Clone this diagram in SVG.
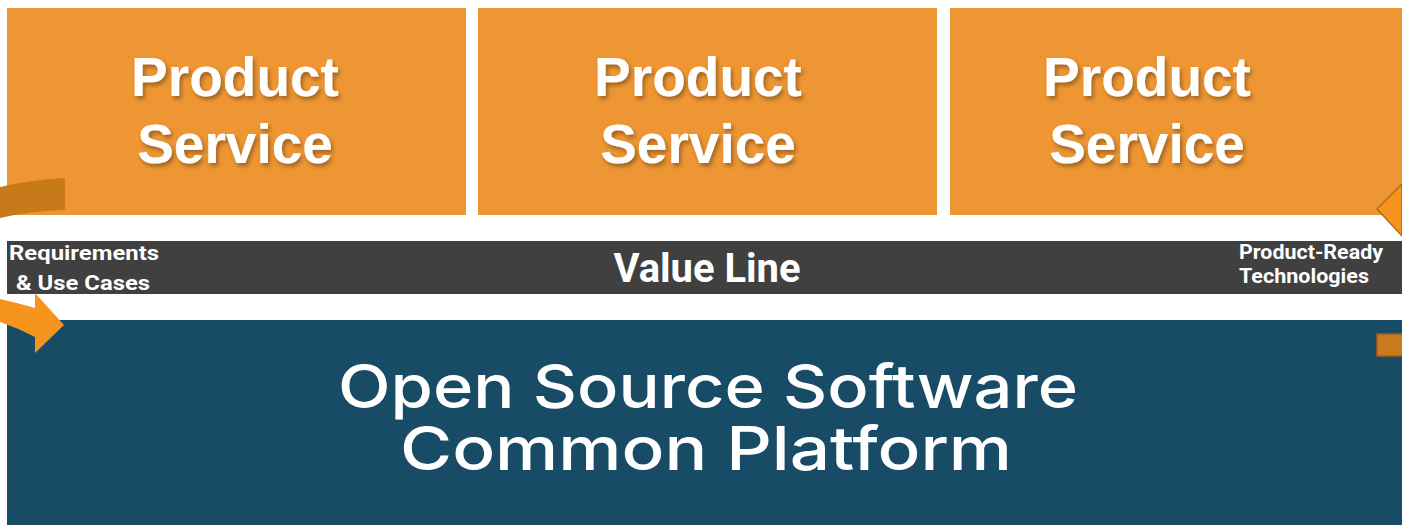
<svg xmlns="http://www.w3.org/2000/svg" width="1402" height="525" viewBox="0 0 1402 525">
<style>
.box{fill:#EE9633}
.ps{font-family:"Liberation Sans",Arial,sans-serif;font-weight:bold;font-size:55px;fill:#FFFFFF;text-anchor:middle;filter:url(#sh)}
.band{fill:#404040}
.sm{font-family:Roboto,"Liberation Sans",sans-serif;font-weight:bold;font-size:21px;fill:#FFFFFF}
.vl{font-family:Roboto,"Liberation Sans",sans-serif;font-weight:bold;font-size:40px;fill:#FFFFFF;text-anchor:middle}
.os{font-family:Inter,"Open Sans",sans-serif;font-weight:500;font-size:60px;fill:#FFFFFF;text-anchor:middle}
</style>
<defs>
<filter id="sh" x="-10%" y="-20%" width="120%" height="150%">
<feDropShadow dx="2" dy="3" stdDeviation="2" flood-color="#000000" flood-opacity="0.35"/>
</filter>
</defs>
<rect width="1402" height="525" fill="#FFFFFF"/>
<g id="ps1">
<rect class="box" x="7" y="8" width="459" height="207"/>
<text class="ps" x="235" y="96">Product</text>
<text class="ps" x="235" y="163">Service</text>
</g>
<g id="ps2">
<rect class="box" x="478" y="8" width="459" height="207"/>
<text class="ps" x="698" y="96">Product</text>
<text class="ps" x="698" y="163">Service</text>
</g>
<g id="ps3">
<rect class="box" x="950" y="8" width="460" height="207"/>
<text class="ps" x="1147" y="96">Product</text>
<text class="ps" x="1147" y="163">Service</text>
</g>
<g id="valueline">
<rect class="band" x="7" y="241" width="1395" height="53"/>
<text class="vl" x="707" y="282" textLength="187" lengthAdjust="spacingAndGlyphs">Value Line</text>
<text class="sm" x="9" y="260" textLength="150" lengthAdjust="spacingAndGlyphs">Requirements</text>
<text class="sm" x="16" y="290" textLength="134" lengthAdjust="spacingAndGlyphs">&amp; Use Cases</text>
<text class="sm" x="1239" y="259" font-size="20" textLength="144" lengthAdjust="spacingAndGlyphs">Product-Ready</text>
<text class="sm" x="1239" y="283" font-size="20" textLength="130" lengthAdjust="spacingAndGlyphs">Technologies</text>
</g>
<g id="platform">
<rect x="7" y="320" width="1395" height="205" fill="#184C66"/>
<text class="os"><tspan x="708" y="408" textLength="740" lengthAdjust="spacingAndGlyphs">Open Source Software</tspan><tspan x="706" y="470" textLength="612" lengthAdjust="spacingAndGlyphs">Common Platform</tspan></text>
</g>
<g id="connectors">
<path d="M0,187 Q30,180 65,178 L65,210 Q30,211 0,218 Z" fill="#C77A1A"/>
<path d="M0,299 Q18,303 35,308 L35,293 L64,325 L35,353 L35,337 Q18,328 0,322 Z" fill="#F7941D"/>
<path d="M1402,184 L1377,209 L1402,236 Z" fill="#F7941D" stroke="#B36B12" stroke-width="1.5"/>
<rect x="1377" y="334" width="30" height="22" fill="#C97A1E" stroke="#A35E10" stroke-width="1.5"/>
</g>
</svg>
